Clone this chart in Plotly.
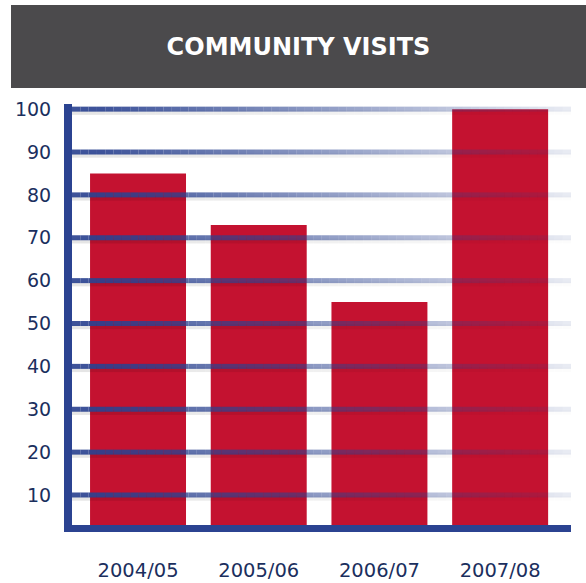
import plotly.graph_objects as go

categories = ["2004/05", "2005/06", "2006/07", "2007/08"]
visits = [85, 73, 55, 100]
tick_values = [10, 20, 30, 40, 50, 60, 70, 80, 90, 100]
tick_labels = ["10", "20", "30", "40", "50", "60", "70", "80", "90", "100"]
title_text = "COMMUNITY VISITS"

W, H = 586, 583
L, R, T, B = 72, 15, 104, 58
plot_w = W - L - R
plot_h = H - T - B

BAR = "#c41230"
NAVY = "#2b4391"
LABEL = "#1b2f5e"
FONT = "DejaVu Sans, Liberation Sans, Arial, sans-serif"

fig = go.Figure()
fig.add_trace(go.Bar(
    x=list(range(len(categories))), y=visits,
    marker=dict(color=BAR, line=dict(width=0)),
    width=0.795, hoverinfo="skip",
))

shapes = []


def px_to_paper_x(px):
    return (px - L) / plot_w


def px_to_paper_y(py):
    return (H - B - py) / plot_h


# header banner
shapes.append(dict(
    type="rect", xref="paper", yref="paper",
    x0=px_to_paper_x(11), x1=px_to_paper_x(W + 2),
    y0=px_to_paper_y(88), y1=px_to_paper_y(5),
    fillcolor="#4b4a4c", line=dict(width=0), layer="below",
))

# fading gridlines, drawn above bars
N = 60
for v in tick_values:
    for i in range(N):
        t0 = i / N
        t1 = (i + 1) / N
        pxc = L + (t0 + t1) / 2 * plot_w
        a = min(1.0, max(0.0, (620 - pxc) / 520))
        # soft shadow
        shapes.append(dict(
            type="line", xref="paper", yref="y",
            x0=t0, x1=t1, y0=v - 0.75, y1=v - 0.75,
            line=dict(color="rgba(0,0,0,%.3f)" % (0.10 * a), width=5),
            layer="above",
        ))
        shapes.append(dict(
            type="line", xref="paper", yref="y",
            x0=t0, x1=t1, y0=v, y1=v,
            line=dict(color=NAVY, width=5),
            opacity=0.9 * a + 0.01,
            layer="above",
        ))

fig.update_layout(
    width=W, height=H,
    margin=dict(l=L, r=R, t=T, b=B, pad=0, autoexpand=False),
    paper_bgcolor="white", plot_bgcolor="white",
    showlegend=False,
    bargap=0.2,
    font=dict(family=FONT, color=LABEL, size=19),
    title=dict(
        text="<b>%s</b>" % title_text,
        x=298.5 / W, xanchor="center",
        y=1 - 46.5 / H, yanchor="middle",
        xref="container", yref="container",
        font=dict(family=FONT, size=24, color="white"),
    ),
    shapes=shapes,
    xaxis=dict(
        range=[-0.547, 3.587],
        tickmode="array",
        tickvals=list(range(len(categories))),
        ticktext=categories,
        showgrid=False, zeroline=False,
        showline=True, linecolor=NAVY, linewidth=7,
        ticks="outside", ticklen=22, tickcolor="rgba(0,0,0,0)",
        tickfont=dict(family=FONT, size=19.5, color=LABEL),
        automargin=False,
        fixedrange=True,
    ),
    yaxis=dict(
        range=[3.0, 101.2],
        tickmode="array",
        tickvals=tick_values,
        ticktext=tick_labels,
        showgrid=False, zeroline=False,
        showline=True, linecolor=NAVY, linewidth=8,
        ticks="outside", ticklen=9, tickcolor="rgba(0,0,0,0)",
        tickfont=dict(family=FONT, size=19, color=LABEL),
        automargin=False,
        fixedrange=True,
    ),
)

fig.write_html(
    "out.html",
    config={"displayModeBar": False},
    post_script="document.body.style.margin='0px';document.body.style.overflow='hidden';",
)
